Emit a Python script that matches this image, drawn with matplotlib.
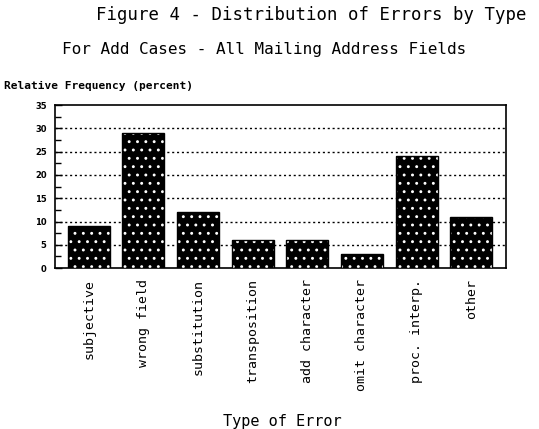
import matplotlib.pyplot as plt
import numpy as np
from matplotlib.ticker import MultipleLocator

plt.rcParams['hatch.linewidth'] = 0.9

# Data
error_types = ['subjective', 'wrong field', 'substitution', 'transposition',
               'add character', 'omit character', 'proc. interp.', 'other']
rel_freq = [9, 29, 12, 6, 6, 3, 24, 11]
yticks = [0, 5, 10, 15, 20, 25, 30, 35]

mono = 'DejaVu Sans Mono'

fig = plt.figure(figsize=(5.39, 4.29), dpi=100)
ax = fig.add_axes([0.102, 0.375, 0.837, 0.38])

x = np.arange(len(error_types))
# black bars with white dot pattern, then black outline on top
ax.bar(x, rel_freq, width=0.77, color='black', edgecolor='white',
       hatch='..', linewidth=0, zorder=3)
ax.bar(x, rel_freq, width=0.77, fill=False, edgecolor='black',
       linewidth=1, zorder=4)

ax.set_xlim(-0.62, 7.64)
ax.set_ylim(0, 35)
ax.set_yticks(yticks)
ax.set_yticklabels([str(v) for v in yticks], fontsize=6, fontweight='bold')
ax.yaxis.set_minor_locator(MultipleLocator(2.5))
ax.tick_params(axis='y', which='major', direction='in', length=5, width=1, pad=6)
ax.tick_params(axis='y', which='minor', direction='in', length=4, width=1)
ax.set_xticks(x)
ax.set_xticklabels(error_types, rotation=90, fontsize=9.5, family=mono,
                   va='top')
ax.tick_params(axis='x', length=0, pad=8)

for v in yticks[1:-1]:
    ax.axhline(v, color='black', linestyle=(0, (1.5, 2)), linewidth=1, zorder=1)

for s in ax.spines.values():
    s.set_linewidth(1.2)

fig.text(0.578, 0.965, 'Figure 4 - Distribution of Errors by Type',
         ha='center', va='center', fontsize=12.5, family=mono)
fig.text(0.49, 0.885, 'For Add Cases - All Mailing Address Fields',
         ha='center', va='center', fontsize=11.5, family=mono)
fig.text(0.008, 0.80, 'Relative Frequency (percent)',
         ha='left', va='center', fontsize=8, fontweight='bold', family=mono)
fig.text(0.523, 0.017, 'Type of Error',
         ha='center', va='center', fontsize=11, family=mono)

plt.savefig('out.png', dpi=100)
